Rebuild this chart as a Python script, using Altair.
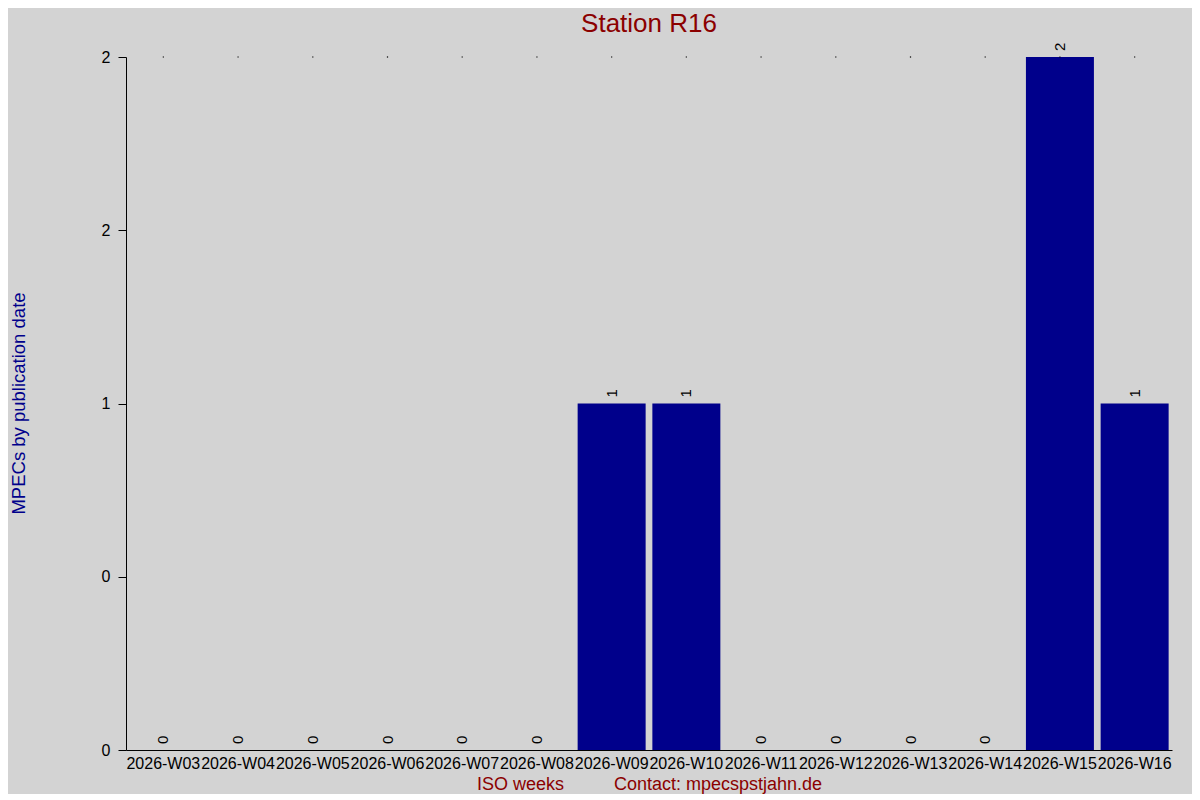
import altair as alt
import pandas as pd

weeks = ["2026-W03", "2026-W04", "2026-W05", "2026-W06", "2026-W07", "2026-W08",
         "2026-W09", "2026-W10", "2026-W11", "2026-W12", "2026-W13", "2026-W14",
         "2026-W15", "2026-W16"]
counts = [0, 0, 0, 0, 0, 0, 1, 1, 0, 0, 0, 0, 2, 1]
ytick_values = [0, 0.5, 1, 1.5, 2]
ytick_labels = ["0", "0", "1", "2", "2"]

df = pd.DataFrame({"week": weeks, "count": counts})

NB = "\u00a0"
xtitle = "ISO weeks" + NB * 10 + "Contact: mpecspstjahn.de"

label_expr = f"{ytick_labels}[indexof({ytick_values}, datum.value)]"

x_enc = alt.X("week:N", sort=weeks, scale=alt.Scale(paddingInner=0.09, paddingOuter=0.045),
              axis=alt.Axis(title=xtitle, labelAngle=0, ticks=False, labelPadding=5,
                            labelFontSize=16, labelColor="black", labelFont="Liberation Sans",
                            domainColor="black", titleColor="#8B0000", titleFontSize=18,
                            titleFont="Liberation Sans", titleFontWeight="normal",
                            titlePadding=4, grid=False))
y_enc = alt.Y("count:Q", scale=alt.Scale(domain=[0, 2], nice=False),
              axis=alt.Axis(title="MPECs by publication date", values=ytick_values,
                            labelExpr=label_expr, tickSize=8, tickColor="black",
                            domainColor="black", labelColor="black", labelFontSize=16,
                            labelFont="Liberation Sans", labelPadding=8, grid=False,
                            titleColor="#00008B", titleFontSize=18.5,
                            titleFont="Liberation Sans", titleFontWeight="normal",
                            titleAngle=-90, titleX=-108, titleY=346,
                            titleBaseline="middle", titleAlign="center"))

bars = alt.Chart(df).mark_bar(color="#00008B").encode(x=x_enc, y=y_enc)

labels = alt.Chart(df).mark_text(angle=270, align="left", baseline="middle", dx=6,
                                 fontSize=15, font="Liberation Sans", color="black").encode(
    x=alt.X("week:N", sort=weeks), y="count:Q", text="count:Q")

dots = alt.Chart(df).mark_square(size=1.5, color="black", opacity=1).encode(
    x=alt.X("week:N", sort=weeks), y=alt.value(0))

chart = (bars + labels + dots).properties(
    width=1046, height=693,
    title=alt.TitleParams("Station R16", color="#8B0000", fontSize=26,
                          font="Liberation Sans", fontWeight="normal",
                          anchor="middle", offset=6),
    background="#d3d3d3",
    autosize=alt.AutoSizeParams(type="none"),
    padding={"left": 118, "top": 49, "right": 20, "bottom": 44},
).configure_view(stroke=None)

chart.save("out.html", embed_options={"renderer": "svg", "actions": False})
